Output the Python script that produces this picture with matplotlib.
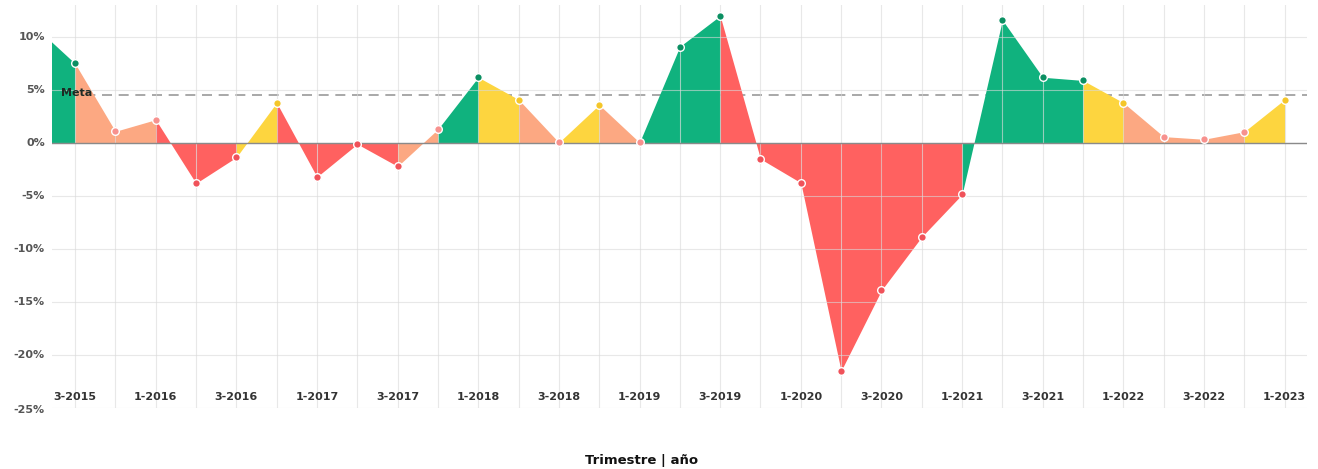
import matplotlib
matplotlib.use("Agg")
import matplotlib.pyplot as plt
import matplotlib.transforms as mtransforms

# quarterly growth (%), first value is 2-2015 and sits just off the left edge
quarters = ["2-2015",
            "3-2015", "4-2015", "1-2016", "2-2016", "3-2016", "4-2016",
            "1-2017", "2-2017", "3-2017", "4-2017", "1-2018", "2-2018",
            "3-2018", "4-2018", "1-2019", "2-2019", "3-2019", "4-2019",
            "1-2020", "2-2020", "3-2020", "4-2020", "1-2021", "2-2021",
            "3-2021", "4-2021", "1-2022", "2-2022", "3-2022", "4-2022",
            "1-2023"]
growth = [11.0,
          7.5, 1.1, 2.2, -3.8, -1.35, 3.8,
          -3.2, -0.1, -2.2, 1.3, 6.2, 4.1,
          0.05, 3.6, 0.05, 9.1, 12.0, -1.5,
          -3.75, -21.5, -13.9, -8.85, -4.85, 11.6,
          6.2, 5.9, 3.8, 0.6, 0.35, 1.07,
          4.1]
meta = 4.5
y_ticks = [10, 5, 0, -5, -10, -15, -20, -25]

GREEN = "#10b27e"
YELLOW = "#fdd53f"
SALMON = "#fca882"
RED = "#ff6160"
MARK = {GREEN: "#0b8f62", YELLOW: "#f4c62a", SALMON: "#f7918e", RED: "#f0525a"}


def band(v):
    if v >= meta:
        return GREEN
    if v >= 3:
        return YELLOW
    if v >= 0:
        return SALMON
    return RED


xs = list(range(-1, len(growth) - 1))

fig = plt.figure(figsize=(13.18, 4.69), dpi=100)
ax = fig.add_axes([0.0395, 0.130, 0.952, 0.859])

# each segment is filled down to zero in the colour of its end point
for i in range(1, len(growth)):
    ax.fill_between([xs[i - 1], xs[i]], [growth[i - 1], growth[i]], 0,
                    color=band(growth[i]), lw=0, zorder=2)

for x, v in zip(xs, growth):
    c = band(v)
    ax.plot(x, v, "o", ms=5.5, mfc=MARK[c], mec="white", mew=1, zorder=5)

ax.axhline(meta, color="#9a9a9a", lw=1.2, ls=(0, (6, 4)), zorder=1)
ax.text(-0.35, meta + 0.25, "Meta", fontsize=8, fontweight="bold",
        color="#1f2a24", va="center", ha="left", zorder=6)
ax.axhline(0, color="#8a8a8a", lw=1, zorder=4)

for y in y_ticks:
    ax.axhline(y, color="#d9d9d9", lw=0.8, alpha=0.6, zorder=3)
for x in xs[1:]:
    ax.axvline(x, color="#d9d9d9", lw=0.8, alpha=0.6, zorder=3)

ax.set_xlim(-0.57, 30.55)
ax.set_ylim(-25, 13)
ax.set_xticks([])
ax.set_yticks([])
for s in ax.spines.values():
    s.set_visible(False)

# y labels to the left of the plot
trans_y = mtransforms.blended_transform_factory(fig.transFigure, ax.transData)
for y in y_ticks:
    off = -0.2 if y == -25 else 0
    ax.text(45 / 1318, y + off, f"{y}%", transform=trans_y, ha="right",
            va="center", fontsize=8, fontweight="bold", color="#555555")

# quarter labels sit inside the plot, just above the bottom
trans_x = mtransforms.blended_transform_factory(ax.transData, ax.transData)
for x, q in zip(xs, quarters):
    if x >= 0 and x % 2 == 0:
        ax.text(x, -23.95, q, transform=trans_x, ha="center", va="center",
                fontsize=8, fontweight="bold", color="#333333", zorder=6)

fig.text(642 / 1318, 1 - 460 / 469, "Trimestre | año", ha="center",
         va="center", fontsize=9.5, fontweight="bold", color="#111111")

fig.savefig("out.png", dpi=100)
